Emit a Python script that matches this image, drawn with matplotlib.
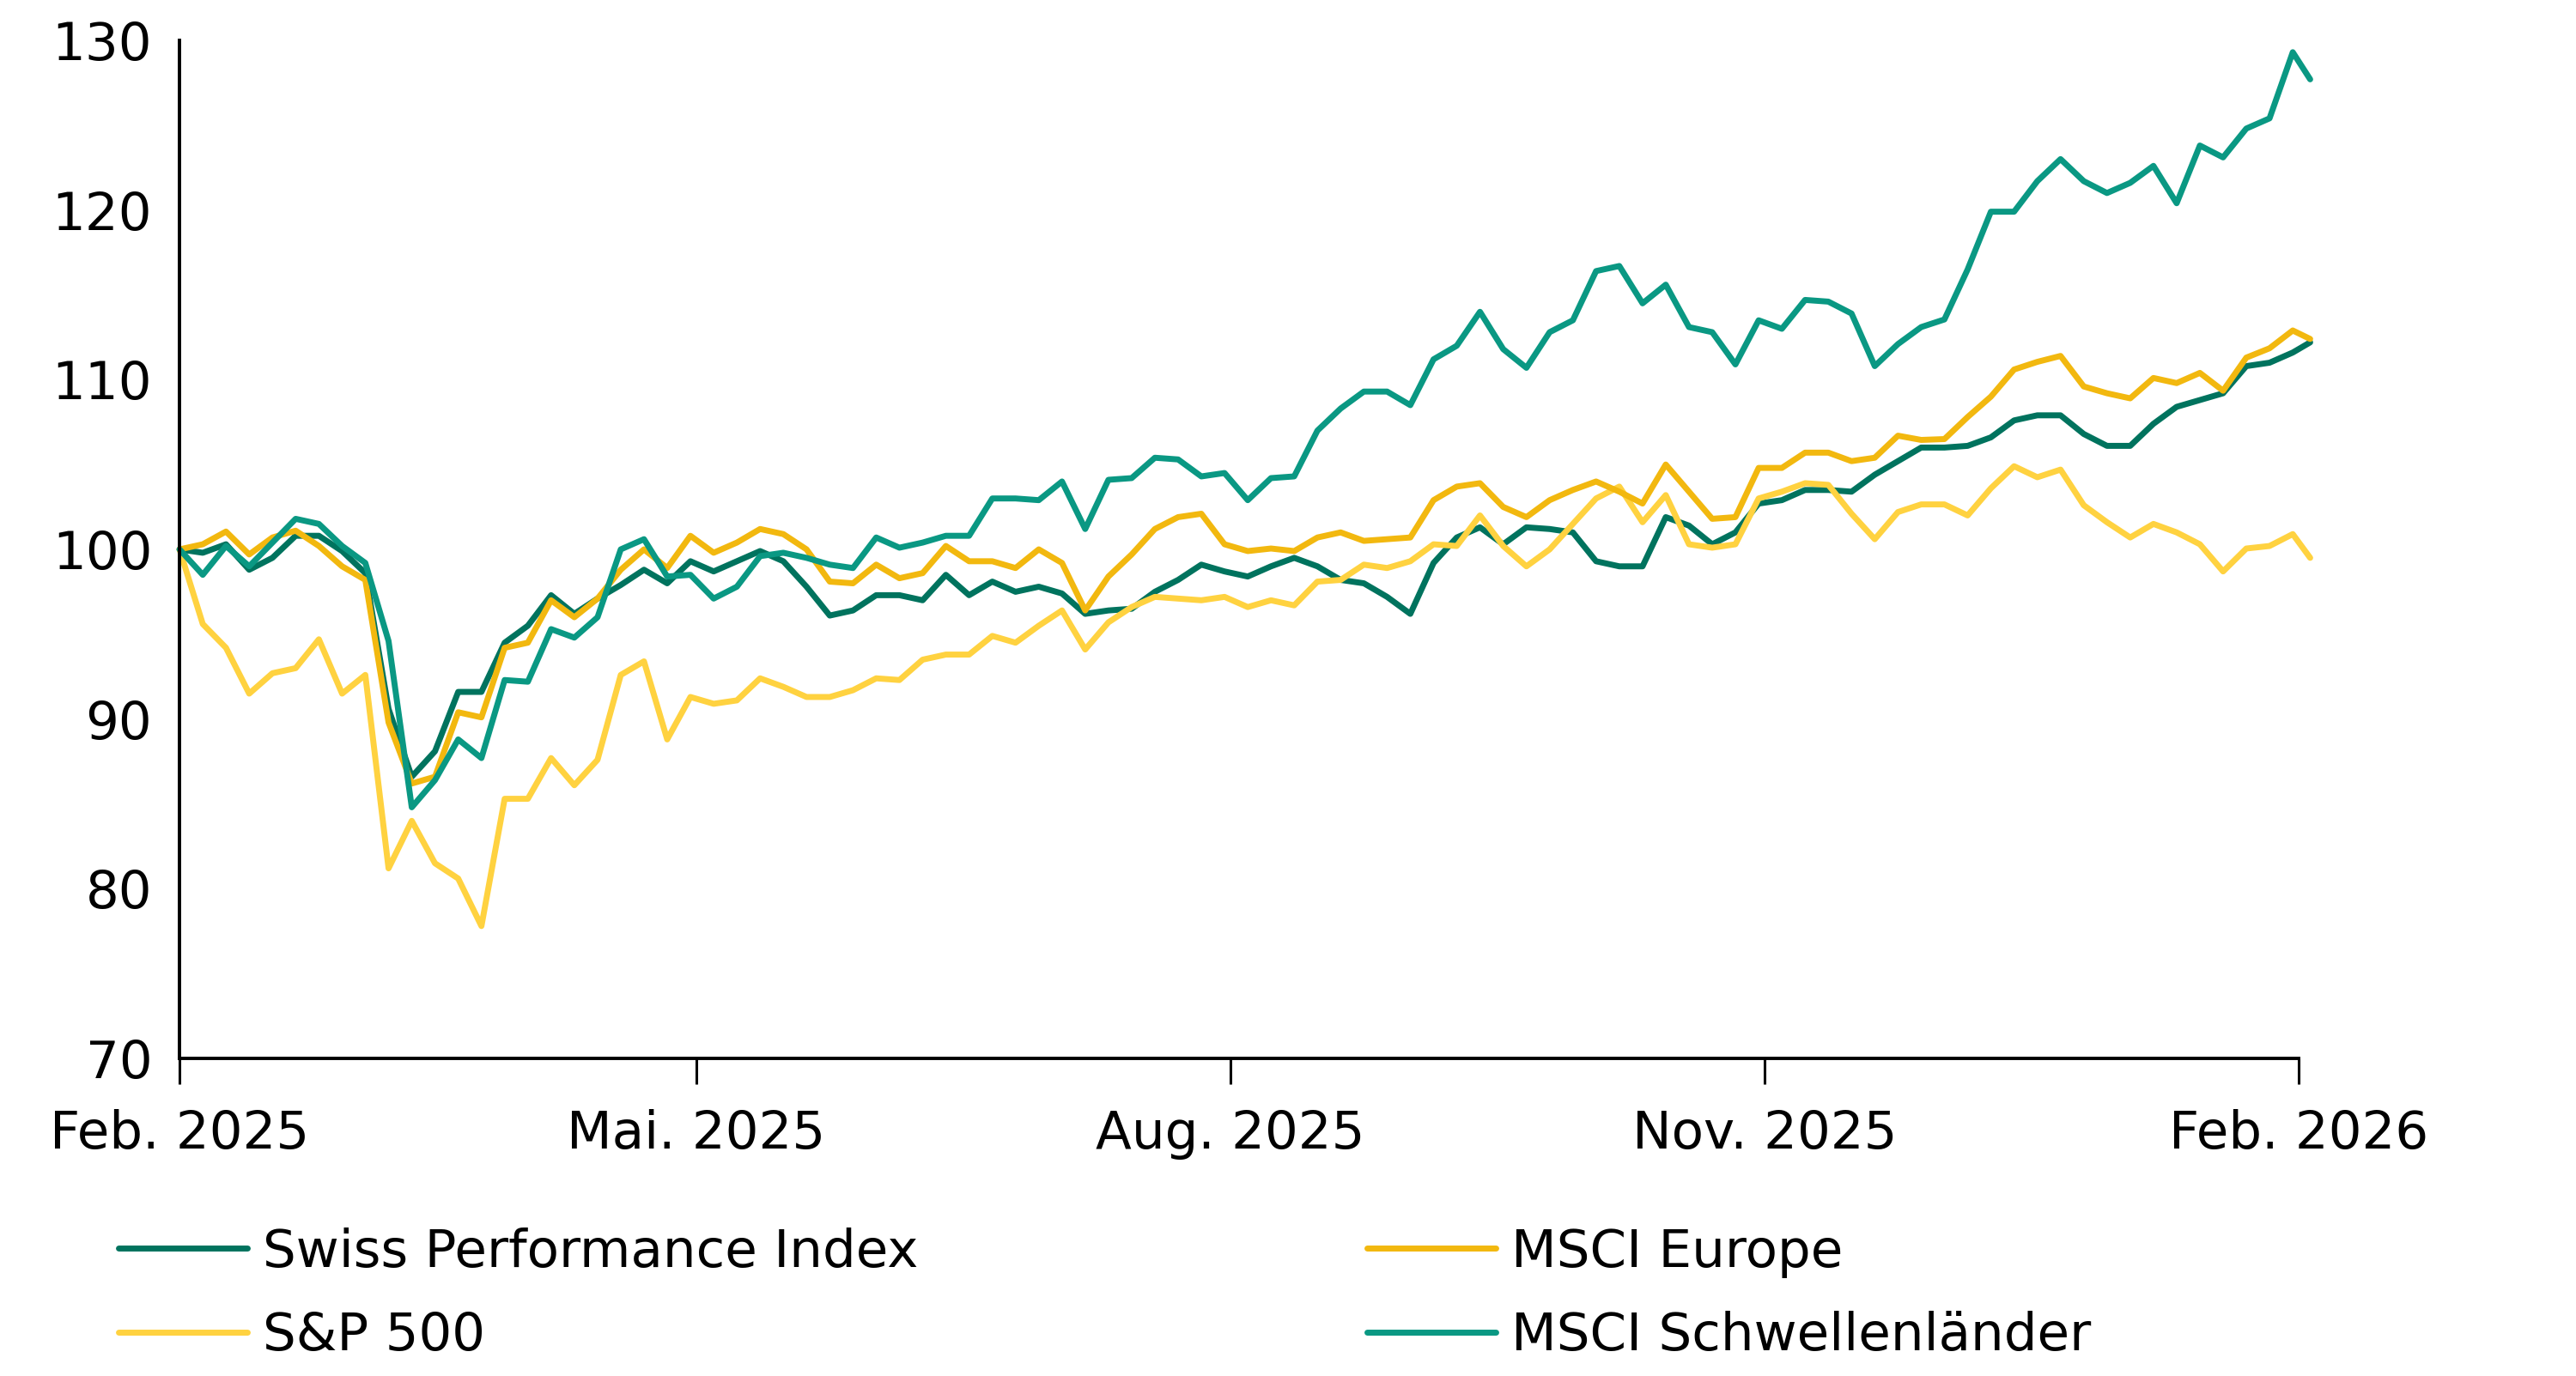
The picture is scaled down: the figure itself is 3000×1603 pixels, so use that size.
import matplotlib
matplotlib.use("Agg")
import matplotlib.pyplot as plt
import pandas as pd

plt.rcParams['font.family'] = ['DejaVu Sans']

# ---- data (index = 100 at start), sampled every 4 days, last point 3 Feb 2026
dates = pd.date_range('2025-02-01', periods=92, freq='4D').append(pd.DatetimeIndex(['2026-02-03']))

spi = [100.0, 99.8, 100.3, 98.8, 99.5, 100.8, 100.8, 99.9, 98.6, 90.6,
       86.6, 88.1, 91.6, 91.6, 94.5, 95.5, 97.3, 96.2, 97.1, 97.9,
       98.8, 98.0, 99.3, 98.7, 99.3, 99.9, 99.3, 97.8, 96.1, 96.4,
       97.3, 97.3, 97.0, 98.5, 97.3, 98.1, 97.5, 97.8, 97.4, 96.2,
       96.4, 96.5, 97.5, 98.2, 99.1, 98.7, 98.4, 99.0, 99.5, 99.0,
       98.2, 98.0, 97.2, 96.2, 99.2, 100.7, 101.3, 100.3, 101.3, 101.2,
       101.0, 99.3, 99.0, 99.0, 101.9, 101.4, 100.3, 101.0, 102.7, 102.9,
       103.5, 103.5, 103.4, 104.4, 105.2, 106.0, 106.0, 106.1, 106.6, 107.6,
       107.9, 107.9, 106.8, 106.1, 106.1, 107.4, 108.4, 108.8, 109.2, 110.8,
       111.0, 111.6, 112.2]

msci_europe = [100.0, 100.3, 101.05, 99.7, 100.7, 101.1, 100.2, 99.0, 98.2, 89.8,
               86.2, 86.6, 90.4, 90.1, 94.2, 94.5, 97.0, 96.0, 97.1, 98.8,
               100.0, 98.9, 100.8, 99.8, 100.4, 101.2, 100.9, 100.0, 98.1, 98.0,
               99.1, 98.3, 98.6, 100.2, 99.3, 99.3, 98.9, 100.0, 99.2, 96.4,
               98.4, 99.7, 101.2, 101.9, 102.1, 100.3, 99.9, 100.05, 99.9, 100.7,
               101.0, 100.5, 100.6, 100.7, 102.9, 103.7, 103.9, 102.5, 101.9, 102.9,
               103.5, 104.0, 103.4, 102.7, 105.0, 103.4, 101.8, 101.9, 104.8, 104.8,
               105.7, 105.7, 105.2, 105.4, 106.7, 106.45, 106.5, 107.8, 109.0, 110.6,
               111.05, 111.4, 109.6, 109.2, 108.9, 110.1, 109.8, 110.4, 109.35, 111.3,
               111.85, 112.9, 112.4]

sp500 = [100.0, 95.6, 94.2, 91.5, 92.7, 93.0, 94.7, 91.5, 92.6, 81.2,
         84.0, 81.5, 80.6, 77.8, 85.3, 85.3, 87.7, 86.1, 87.6, 92.6,
         93.4, 88.8, 91.3, 90.9, 91.1, 92.4, 91.9, 91.3, 91.3, 91.7,
         92.4, 92.3, 93.5, 93.8, 93.8, 94.9, 94.5, 95.5, 96.4, 94.1,
         95.7, 96.6, 97.2, 97.1, 97.0, 97.2, 96.6, 97.0, 96.7, 98.1,
         98.2, 99.1, 98.9, 99.3, 100.3, 100.2, 102.0, 100.2, 99.0, 100.0,
         101.5, 103.0, 103.7, 101.6, 103.2, 100.3, 100.1, 100.3, 103.0, 103.4,
         103.9, 103.8, 102.1, 100.6, 102.2, 102.65, 102.65, 102.0, 103.6, 104.9,
         104.25, 104.7, 102.6, 101.6, 100.7, 101.5, 101.0, 100.3, 98.7, 100.05,
         100.2, 100.9, 99.5]

msci_em = [100.0, 98.5, 100.2, 99.0, 100.4, 101.8, 101.5, 100.2, 99.2, 94.6,
           84.8, 86.4, 88.8, 87.7, 92.3, 92.2, 95.3, 94.8, 96.0, 100.0,
           100.6, 98.4, 98.5, 97.1, 97.8, 99.6, 99.8, 99.5, 99.1, 98.9,
           100.7, 100.1, 100.4, 100.8, 100.8, 103.0, 103.0, 102.9, 104.0, 101.2,
           104.1, 104.2, 105.4, 105.3, 104.3, 104.5, 102.9, 104.2, 104.3, 107.0,
           108.3, 109.3, 109.3, 108.5, 111.2, 112.0, 114.0, 111.8, 110.7, 112.8,
           113.5, 116.4, 116.7, 114.5, 115.6, 113.1, 112.8, 110.9, 113.5, 113.0,
           114.7, 114.6, 113.9, 110.8, 112.1, 113.1, 113.55, 116.5, 119.9, 119.9,
           121.7, 123.0, 121.7, 121.0, 121.6, 122.6, 120.4, 123.8, 123.1, 124.8,
           125.4, 129.3, 127.7]

series_names = ['Swiss Performance Index', 'S&P 500', 'MSCI Europe', 'MSCI Schwellenländer']
series_values = [spi, sp500, msci_europe, msci_em]
series_colors = ['#00735E', '#FFD240', '#F2B80F', '#0A9883']

tick_dates = ['2025-02-01', '2025-05-01', '2025-08-01', '2025-11-01', '2026-02-01']
tick_labels = ['Feb. 2025', 'Mai. 2025', 'Aug. 2025', 'Nov. 2025', 'Feb. 2026']
y_ticks = [70, 80, 90, 100, 110, 120, 130]

FS = 44

# ---- figure
fig = plt.figure(figsize=(30, 16.03), dpi=100)
ax = fig.add_axes([0.0697, 0.2308, 0.8226, 0.7399])

lines = {}
for name, vals, col in zip(series_names, series_values, series_colors):
    ln, = ax.plot(dates, vals, color=col, lw=5.0, label=name, clip_on=False,
                  solid_joinstyle='round', solid_capstyle='round')
    lines[name] = ln

ax.set_ylim(70, 130)
ax.set_yticks(y_ticks)
ax.set_xlim(pd.Timestamp('2025-02-01'), pd.Timestamp('2026-02-01'))
ax.set_xticks(pd.to_datetime(tick_dates))
ax.set_xticklabels(tick_labels)

for s in ['top', 'right']:
    ax.spines[s].set_visible(False)
for s in ['left', 'bottom']:
    ax.spines[s].set_linewidth(2.8)
    ax.spines[s].set_color('black')

ax.tick_params(axis='y', length=0, pad=23, labelsize=FS, colors='black')
ax.tick_params(axis='x', length=21.6, width=2.2, pad=21, labelsize=FS, colors='black')

# legend in two columns
leg_kw = dict(frameon=False, fontsize=FS, handlelength=2.45, handletextpad=0.3,
              labelspacing=0.63, borderpad=0, borderaxespad=0, loc='upper left')
leg1 = fig.legend([lines['Swiss Performance Index'], lines['S&P 500']],
                  ['Swiss Performance Index', 'S&P 500'],
                  bbox_to_anchor=(0.046, 0.108), **leg_kw)
leg2 = fig.legend([lines['MSCI Europe'], lines['MSCI Schwellenländer']],
                  ['MSCI Europe', 'MSCI Schwellenländer'],
                  bbox_to_anchor=(0.5307, 0.108), **leg_kw)
for lg in (leg1, leg2):
    for h in lg.legend_handles:
        h.set_linewidth(5.0)

fig.savefig('out.png', dpi=100)
